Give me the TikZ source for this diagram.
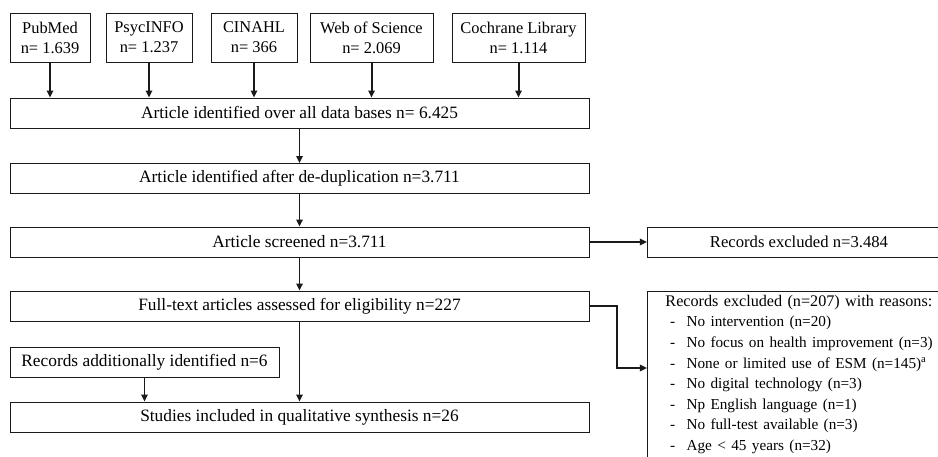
\documentclass[tikz,border=0pt]{standalone}
\usepackage{fontspec}
\setmainfont{Liberation Serif}
\usepackage{tikz}
\usepackage{xcolor}
\usetikzlibrary{arrows.meta,positioning,calc}
\definecolor{ink}{HTML}{1A1A1A}
\newcommand{\dbfont}{\fontsize{14}{17}\selectfont}
\newcommand{\flowfont}{\fontsize{14.8}{17}\selectfont}
\newcommand{\exclfont}{\fontsize{14.2}{17.6}\selectfont}
\newcommand{\headfont}{\fontsize{13.8}{17.6}\selectfont}
\newcommand{\itemfont}{\fontsize{13.0}{17.6}\selectfont}
\newcommand{\reason}[1]{{\itemfont\makebox[18pt][l]{\hspace*{4pt}-}#1}}
\tikzset{
  dbbox/.style={draw=ink,line width=0.8pt,align=center,inner sep=2pt,
                minimum height=1.47cm,font=\dbfont},
  flowbox/.style={draw=ink,line width=0.8pt,align=center,inner sep=2pt,
                  minimum height=0.9cm,font=\flowfont},
  listbox/.style={draw=ink,line width=0.8pt,align=left,anchor=north west,
                  text width=8.7cm,inner xsep=0.54cm,inner ysep=3pt,
                  font=\headfont},
  flowarr/.style={-{Triangle[length=6pt,width=5.5pt]},line width=1.7pt,
                  draw=ink}
}

\begin{document}
\begin{tikzpicture}[x=1cm,y=1cm]
    \path[use as bounding box] (0,0) rectangle (28.14,-13.71);

    % data bases
    \node[dbbox,minimum width=2.40cm] (pubmed) at (1.50,-1.125)
      {PubMed\\n= 1.639};
    \node[dbbox,minimum width=2.58cm] (psycinfo) at (4.47,-1.125)
      {PsycINFO\\n= 1.237};
    \node[dbbox,minimum width=2.58cm] (cinahl) at (7.62,-1.125)
      {CINAHL\\n= 366};
    \node[dbbox,minimum width=3.69cm] (wos) at (11.145,-1.125)
      {Web of Science\\n= 2.069};
    \node[dbbox,minimum width=3.99cm] (cochrane) at (15.555,-1.125)
      {Cochrane Library\\n= 1.114};

    % main flow
    \node[flowbox,minimum width=17.37cm] (alldb) at (8.985,-3.39)
      {Article identified over all data bases n= 6.425};
    \node[flowbox,minimum width=17.37cm] (dedup) at (8.985,-5.355)
      {Article identified after de-duplication n=3.711};
    \node[flowbox,minimum width=17.37cm] (screened) at (8.985,-7.26)
      {Article screened n=3.711};
    \node[flowbox,minimum width=17.37cm] (fulltext) at (8.985,-9.18)
      {Full-text articles assessed for eligibility n=227};
    \node[flowbox,minimum width=8.07cm] (addl) at (4.335,-10.86)
      {Records additionally identified n=6};
    \node[flowbox,minimum width=17.37cm] (included) at (8.985,-12.51)
      {Studies included in qualitative synthesis n=26};

    % exclusions
    \node[flowbox,font=\exclfont,minimum width=9.09cm,anchor=west] (excl)
      at (19.41,-7.26) {Records excluded n=3.484};
    \node[listbox] (reasons) at (19.41,-8.73)
      {Records excluded (n=207) with reasons:\\
       \reason{No intervention (n=20)}\\
       \reason{No focus on health improvement (n=3)}\\
       \reason{None or limited use of ESM (n=145)\textsuperscript{a}}\\
       \reason{No digital technology (n=3)}\\
       \reason{Np English language (n=1)}\\
       \reason{No full-test available (n=3)}\\
       \reason{Age < 45 years (n=32)}\\
       ~};
    \coordinate (elbow) at (18.51,-11.04);

    \foreach \db in {pubmed,psycinfo,cinahl,wos,cochrane}
      \draw[flowarr] (\db.south) -- (\db.south |- alldb.north);
    \draw[flowarr] (alldb) -- (dedup);
    \draw[flowarr] (dedup) -- (screened);
    \draw[flowarr] (screened) -- (fulltext);
    \draw[flowarr] (fulltext) -- (included);
    \draw[flowarr] (addl.south) -- (addl.south |- included.north);
    \draw[flowarr] (screened) -- (excl);
    \draw[flowarr] (fulltext.east) -| (elbow) -- (elbow -| reasons.west);
  \end{tikzpicture}
\end{document}
